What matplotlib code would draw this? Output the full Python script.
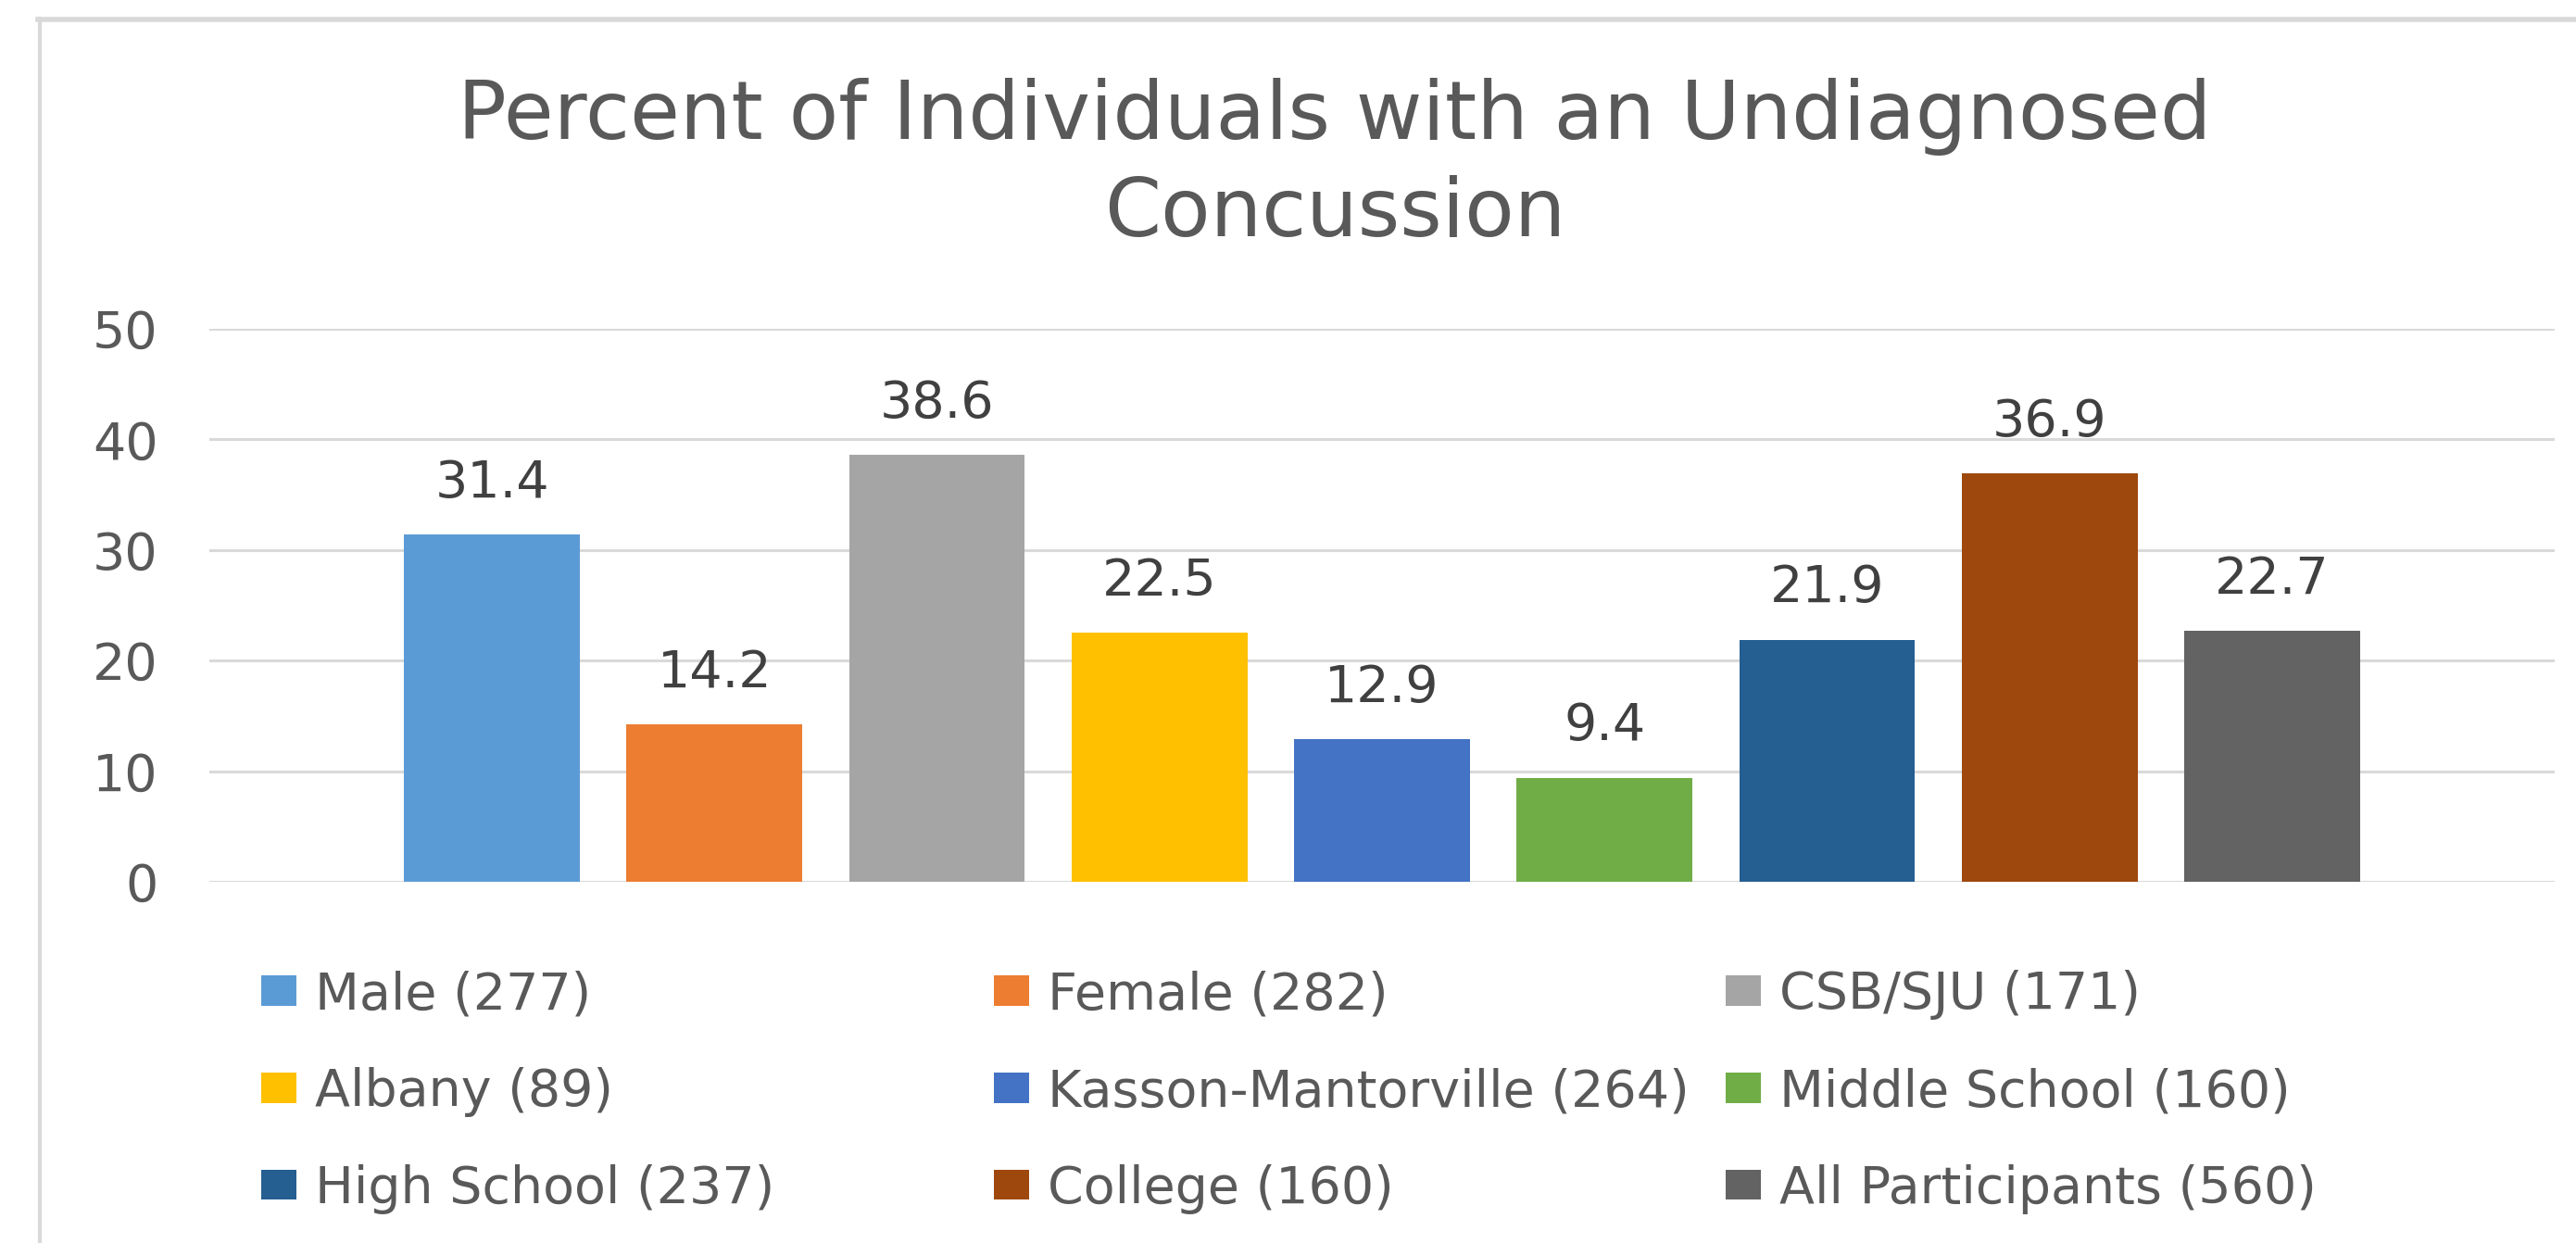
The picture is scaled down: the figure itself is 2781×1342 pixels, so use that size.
import matplotlib
matplotlib.use("Agg")
import matplotlib.pyplot as plt
from matplotlib.lines import Line2D

categories = ["Male (277)", "Female (282)", "CSB/SJU (171)",
              "Albany (89)", "Kasson-Mantorville (264)", "Middle School (160)",
              "High School (237)", "College (160)", "All Participants (560)"]
values = [31.4, 14.2, 38.6, 22.5, 12.9, 9.4, 21.9, 36.9, 22.7]
colors = ["#5B9BD5", "#ED7D31", "#A5A5A5", "#FFC000", "#4472C4",
          "#70AD47", "#255E91", "#9E480E", "#636363"]
yticks = [0, 10, 20, 30, 40, 50]
title = "Percent of Individuals with an Undiagnosed\nConcussion"

W, H = 2781, 1342
DPI = 100
fig = plt.figure(figsize=(W / DPI, H / DPI), dpi=DPI)
fig.patch.set_facecolor("white")

# chart border (gray lines at top and left)
fig.add_artist(Line2D([41 / W, 1.0], [1 - 20.5 / H, 1 - 20.5 / H], transform=fig.transFigure,
                      color="#D9D9D9", lw=4))
fig.add_artist(Line2D([43 / W, 43 / W], [1 - 20 / H, 0.0], transform=fig.transFigure,
                      color="#D9D9D9", lw=3))

left, right, top, bottom = 226, 2758, 355, 952
ax = fig.add_axes([left / W, 1 - bottom / H, (right - left) / W, (bottom - top) / H])

bars = []
for i, (v, c, lab) in enumerate(zip(values, colors, categories)):
    b = ax.bar(i, v, width=0.79, color=c, label=lab, zorder=3)
    bars.append(b)
    ax.annotate(f"{v}", (i, v), xytext=(0, 29), textcoords="offset points",
                ha="center", va="baseline", fontsize=40, color="#404040",
                family="DejaVu Sans")

ax.set_xlim(-1.27, len(values) - 1 + 1.27)
ax.set_ylim(0, 50)
ax.set_yticks(yticks)
ax.set_yticklabels([str(t) for t in yticks], fontsize=40, color="#595959", family="DejaVu Sans")
ax.tick_params(axis="y", length=0, pad=40)
ax.set_xticks([])
for s in ax.spines.values():
    s.set_visible(False)
ax.yaxis.grid(True, color="#D9D9D9", lw=2.2, zorder=0)
ax.set_axisbelow(True)

# baseline of the last title line
fig.text(1441 / W, 1 - 255 / H, title, ha="center", va="baseline", fontsize=63,
         color="#595959", family="DejaVu Sans", linespacing=1.325)

# legend in three columns, filled row by row
col_x = [282, 1073, 1863]
for c in range(3):
    hs = [bars[r * 3 + c] for r in range(3)]
    ls = [categories[r * 3 + c] for r in range(3)]
    fig.legend(hs, ls, loc="center left", bbox_to_anchor=(col_x[c] / W, 1 - 1179 / H),
               frameon=False, fontsize=40, borderpad=0, borderaxespad=0,
               handlelength=0.68, handleheight=0.52, handletextpad=0.36,
               labelspacing=0.914, labelcolor="#595959")

fig.savefig("out.png", dpi=DPI)
